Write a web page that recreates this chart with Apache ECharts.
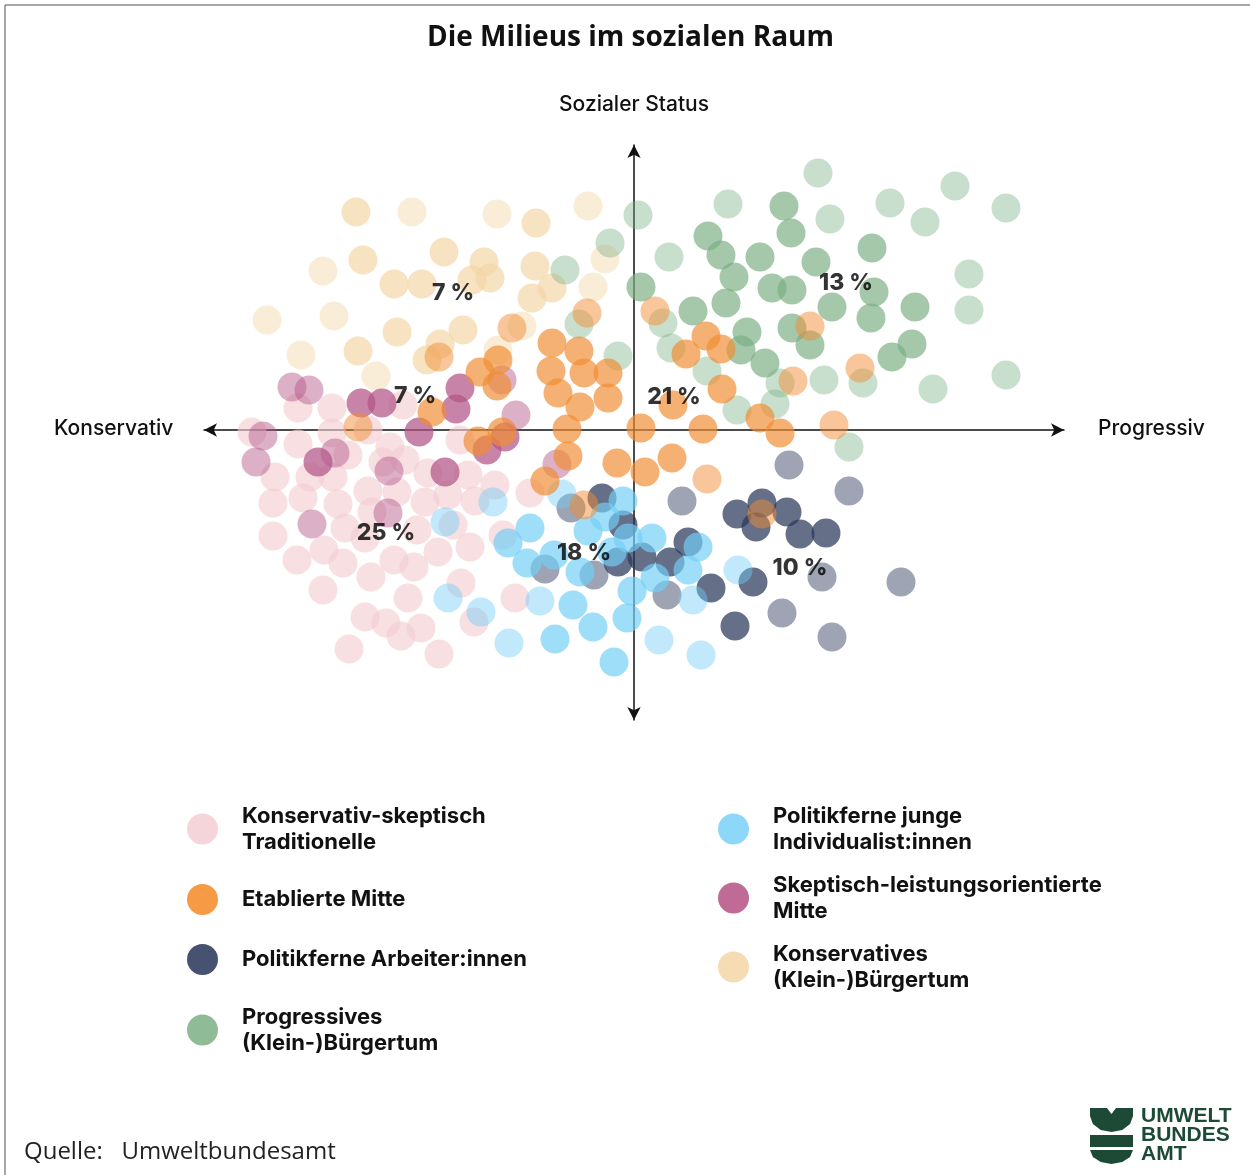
<!DOCTYPE html>
<html><head><meta charset="utf-8">
<script src="https://cdn.jsdelivr.net/npm/echarts@6/dist/echarts.min.js"></script>
<style>html,body{margin:0;padding:0;background:#fff}#c{width:1250px;height:1175px}</style>
</head><body><div id="c"></div>
<script>
// Milieu names (legend order)
const milieus = [
  'Konservativ-skeptisch Traditionelle',
  'Etablierte Mitte',
  'Politikferne Arbeiter:innen',
  'Progressives (Klein-)Bürgertum',
  'Politikferne junge Individualist:innen',
  'Skeptisch-leistungsorientierte Mitte',
  'Konservatives (Klein-)Bürgertum'
];
const legendLabels = [
  'Konservativ-skeptisch\nTraditionelle',
  'Etablierte Mitte',
  'Politikferne Arbeiter:innen',
  'Progressives\n(Klein-)Bürgertum',
  'Politikferne junge\nIndividualist:innen',
  'Skeptisch-leistungsorientierte\nMitte',
  'Konservatives\n(Klein-)Bürgertum'
];
// x: konservativ (-) .. progressiv (+), y: sozialer Status
const traditionelle = [[-336,22],[-302,22],[-231,25],[-382,-2],[-336,-14],[-302,-3],[-266,0],[-244,-17],[-229,-30],[-286,-25],[-359,-47],[-324,-47],[-301,-47],[-251,-32],[-206,-43],[-166,-45],[-361,-73],[-331,-68],[-296,-74],[-266,-61],[-237,-62],[-262,-82],[-209,-72],[-186,-65],[-159,-71],[-139,-55],[-361,-106],[-289,-98],[-269,-108],[-217,-100],[-181,-95],[-164,-117],[-337,-130],[-310,-120],[-291,-133],[-240,-130],[-220,-137],[-196,-122],[-263,-147],[-311,-160],[-226,-168],[-173,-153],[-160,-192],[-269,-187],[-248,-193],[-233,-206],[-213,-198],[-285,-219],[-195,-224],[-131,-105],[-119,-168],[-174,-10],[-104,-63]];
const etablierteStark = [[-82,87],[-55,79],[-83,59],[-50,57],[-26,57],[-76,37],[-26,32],[-54,23],[-154,58],[-136,70],[-137,44],[-202,18],[7,2],[-67,1],[69,1],[38,-28],[-17,-33],[11,-42],[-66,-26],[-89,-51],[-132,-2],[-156,-11],[52,76],[72,94],[87,81],[88,41],[39,25],[126,12],[146,-3]];
const etablierteHell = [[21,119],[-47,117],[-122,102],[176,104],[226,62],[159,49],[200,5],[73,-49],[-50,-75],[128,-84],[-195,73],[-276,3]];
const arbeiterStark = [[-32,-68],[-11,-95],[-16,-132],[8,-127],[36,-132],[54,-112],[119,-152],[77,-158],[101,-196],[103,-84],[128,-73],[153,-82],[122,-97],[166,-104],[192,-103]];
const arbeiterHell = [[48,-71],[-63,-78],[-89,-139],[-40,-145],[33,-165],[155,-35],[215,-61],[188,-147],[267,-152],[148,-183],[198,-207]];
const progressiveStark = [[7,143],[74,194],[87,175],[100,153],[92,127],[59,119],[113,98],[107,80],[126,173],[150,224],[157,197],[182,168],[238,182],[138,142],[158,140],[198,123],[240,138],[237,112],[281,123],[158,102],[176,85],[131,67],[278,86],[258,73]];
const progressiveHell = [[4,215],[-24,187],[-69,160],[-55,106],[-16,74],[35,173],[94,226],[29,107],[37,82],[73,59],[103,20],[184,257],[196,211],[256,227],[291,208],[321,244],[372,222],[335,156],[335,120],[229,47],[190,50],[299,41],[372,55],[146,47],[141,26],[215,-17]];
const jungeStark = [[-11,-71],[-104,-98],[-126,-113],[-46,-101],[-29,-87],[-6,-108],[18,-108],[-80,-125],[-107,-133],[-54,-142],[-22,-122],[64,-117],[54,-140],[21,-148],[-2,-161],[-61,-175],[-41,-197],[-7,-188],[-79,-209],[-20,-232]];
const jungeHell = [[-72,-64],[-141,-72],[-189,-92],[-186,-168],[-153,-182],[-94,-171],[-125,-213],[25,-210],[67,-225],[59,-170],[104,-140]];
const leistungStark = [[-273,27],[-252,27],[-174,42],[-178,21],[-215,-2],[-316,-32],[-189,-42],[-147,-20],[-129,-7]];
const leistungHell = [[-342,43],[-325,40],[-371,-6],[-378,-32],[-299,-23],[-245,-41],[-246,-83],[-322,-94],[-118,15],[-77,-34],[-132,50]];
const buergertumStark = [[-278,218],[-98,207],[-190,178],[-271,170],[-150,168],[-240,146],[-212,146],[-162,150],[-144,152],[-99,164],[-82,142],[-102,132],[-237,98],[-171,100],[-194,86],[-276,79],[-207,70]];
const buergertumHell = [[-222,218],[-137,216],[-46,224],[-311,159],[-367,110],[-300,114],[-333,75],[-258,54],[-29,171],[-41,143],[-112,104],[-136,80]];
// share labels [x, y, text]
const shareLabels = [[-181,137,'7 %'],[-219,34,'7 %'],[-248,-103,'25 %'],[-50,-123,'18 %'],[40,33,'21 %'],[212,147,'13 %'],[166,-138,'10 %']];

const legendColors = ['#f5d5d9','#f79a45','#465270','#8fbc96','#8dd8f8','#bf6b95','#f5dcb3'];
const baseRGB = [[242,205,209],[240,140,50],[42,55,90],[121,175,129],[113,206,246],[179,84,134],[244,214,165]];

function rgba(i,a){const c=baseRGB[i];return `rgba(${c[0]},${c[1]},${c[2]},${a})`;}
function sc(i, data, alpha){
  return {type:'scatter', name:milieus[i], data:data, symbolSize:29, silent:true,
    itemStyle:{color:rgba(i,alpha)}, emphasis:{disabled:true}};
}
const font = 'Inter, "Liberation Sans", Arial, sans-serif';
const green = '#1d4a36';
const chart = echarts.init(document.getElementById('c'), null, {renderer:'canvas'});
const axisLineStyle = {color:'#111', width:1.5};
const legendText = {fontFamily:font, fontWeight:'bold', fontSize:22, lineHeight:26, color:'#111', padding:[0,0,0,19]};
chart.setOption({
  backgroundColor:'#fff',
  animation:false,
  title:{text:'Die Milieus im sozialen Raum', left:422, top:19,
    textStyle:{fontFamily:'"Open Sans", sans-serif', fontWeight:'bold', fontSize:28, color:'#111'}},
  grid:{left:204, right:186, top:145, bottom:455},
  xAxis:{type:'value', min:-430, max:430, splitLine:{show:false}, axisTick:{show:false}, axisLabel:{show:false},
    axisLine:{show:true, onZero:true, symbol:['arrow','arrow'], symbolSize:[10,13], lineStyle:axisLineStyle}},
  yAxis:{type:'value', min:-290, max:285, splitLine:{show:false}, axisTick:{show:false}, axisLabel:{show:false},
    axisLine:{show:true, onZero:true, symbol:['arrow','arrow'], symbolSize:[10,13], lineStyle:axisLineStyle}},
  legend:[
    {orient:'vertical', left:182, top:798, itemWidth:31, itemHeight:31, itemGap:29, icon:'circle', selectedMode:false,
     data:[0,1,2,3].map(i=>({name:milieus[i], itemStyle:{color:legendColors[i], opacity:1}})),
     formatter:n=>legendLabels[milieus.indexOf(n)], textStyle:legendText},
    {orient:'vertical', left:713, top:798, itemWidth:31, itemHeight:31, itemGap:17, icon:'circle', selectedMode:false,
     data:[4,5,6].map(i=>({name:milieus[i], itemStyle:{color:legendColors[i], opacity:1}})),
     formatter:n=>legendLabels[milieus.indexOf(n)], textStyle:legendText}
  ],
  series:[
    sc(0, traditionelle, 0.8),
    sc(6, buergertumHell, 0.56), sc(6, buergertumStark, 0.85),
    sc(5, leistungHell, 0.57), sc(5, leistungStark, 0.9),
    sc(3, progressiveHell, 0.5), sc(3, progressiveStark, 0.85),
    sc(2, arbeiterHell, 0.57), sc(2, arbeiterStark, 0.9),
    sc(4, jungeHell, 0.55), sc(4, jungeStark, 0.85),
    sc(1, etablierteHell, 0.62), sc(1, etablierteStark, 0.85),
    {type:'scatter', name:'labels', data:shareLabels, symbolSize:0, silent:true, z:100, zlevel:1,
     itemStyle:{color:'transparent'},
     label:{show:true, position:'inside', formatter:p=>p.value[2], fontFamily:font, fontWeight:800, fontSize:23,
       color:'#000', textBorderWidth:0, textBorderColor:'transparent'}}
  ],
  graphic:[
    {type:'line', shape:{x1:5, y1:5, x2:1250, y2:5}, style:{stroke:'#8a8a8a', lineWidth:1.5}},
    {type:'line', shape:{x1:5, y1:5, x2:5, y2:1175}, style:{stroke:'#8a8a8a', lineWidth:1.5}},
    {type:'text', x:559, y:94, style:{text:'Sozialer Status', font:'500 21px '+font, fill:'#111'}},
    {type:'text', x:54, y:418, style:{text:'Konservativ', font:'500 21px '+font, fill:'#111'}},
    {type:'text', x:1098, y:418, style:{text:'Progressiv', font:'500 21px '+font, fill:'#111'}},
    {type:'text', x:24, y:1140, style:{text:'Quelle:   Umweltbundesamt', font:'24px "Open Sans", sans-serif', fill:'#222'}},
    // logo
    {type:'polygon', x:1090, y:1108, shape:{points:[[0,0],[17,0],[21.5,6],[26,0],[43,0],[43,8],[40.1,16],[32.25,21.9],[21.5,24],[10.75,21.9],[2.9,16],[0,8]]}, style:{fill:green}},
    {type:'rect', x:1090, y:1108, shape:{x:0, y:27, width:43, height:12}, style:{fill:green}},
    {type:'polygon', x:1090, y:1108, shape:{points:[[0,42],[43,42],[40.1,49],[32.25,54.1],[21.5,56],[10.75,54.1],[2.9,49]]}, style:{fill:green}},
    {type:'text', x:1141, y:1107, style:{text:'UMWELT\nBUNDES\nAMT', font:'bold 21px "Liberation Sans", Arial, sans-serif', lineHeight:19, fill:green}}
  ]
});
</script></body></html>
